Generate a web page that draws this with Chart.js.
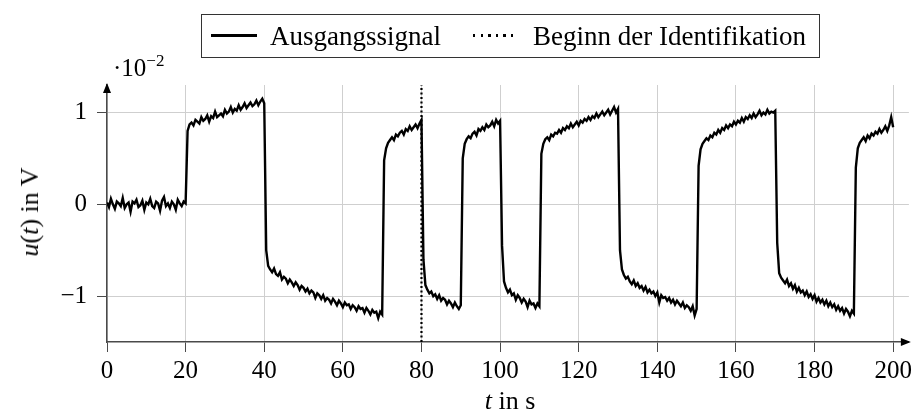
<!DOCTYPE html>
<html>
<head>
<meta charset="utf-8">
<script src="https://cdn.jsdelivr.net/npm/chart.js@4"></script>
<style>
  body { margin: 0; background: #fff; }
  #wrap { position: relative; width: 916px; height: 415px; font-family: "Liberation Serif", serif; color: #000; }
  #chart { position: absolute; left: 0; top: 0; }
  .legend { position: absolute; left: 201px; top: 14px; width: 617px; height: 42px; border: 1px solid #333; }
  .legend .item { position: absolute; top: 0; height: 42px; line-height: 42px; font-size: 27px; white-space: nowrap; }
  .legend .sample { position: absolute; top: 19px; width: 46px; height: 2.5px; }
  .ylab { position: absolute; left: 30px; top: 212px; font-size: 26px; white-space: nowrap; transform: translate(-50%, -50%) rotate(-90deg); }
  .xlab { position: absolute; left: 510px; top: 401px; font-size: 26px; white-space: nowrap; transform: translate(-50%, -50%); }
  .expo { position: absolute; left: 113px; top: 54px; font-size: 25px; white-space: nowrap; }
  .expo sup { font-size: 17px; vertical-align: 0; position: relative; top: -10px; }
</style>
</head>
<body>
<div id="wrap">
  <canvas id="chart" width="916" height="415"></canvas>
  <div class="legend">
    <div class="sample" style="left:9px; background:#000;"></div>
    <div class="item" style="left:68px;">Ausgangssignal</div>
    <div class="sample" style="left:271px; background:repeating-linear-gradient(90deg, #000 0 2.5px, transparent 2.5px 7.6px);"></div>
    <div class="item" style="left:331px;">Beginn der Identifikation</div>
  </div>
  <div class="expo">·10<sup>−2</sup></div>
  <div class="ylab"><i>u</i>(<i>t</i>) in V</div>
  <div class="xlab"><i>t</i> in s</div>
</div>
<script>
// Messwerte in 1e-2 V, Abtastung alle 0.5 s (t = 0 ... 200 s)
const sampleStep = 0.5;
const signal = [
  // 0 - 20 s
  0.02,-0.03,0.06,0.00,-0.05,0.03,0.01,-0.02,0.07,-0.04,0.00,0.02,-0.08,0.03,0.01,0.05,-0.03,-0.01,0.04,-0.06,
  0.02,0.00,0.06,-0.02,-0.04,0.03,0.01,-0.07,0.04,0.08,-0.02,0.01,-0.04,0.03,0.00,-0.06,0.05,0.01,-0.02,0.03,0.01,
  // 20.5 - 40 s
  0.80,0.87,0.89,0.86,0.92,0.90,0.88,0.95,0.91,0.93,0.97,0.90,0.96,0.94,1.01,0.95,0.97,0.99,0.96,1.03,
  0.99,1.01,1.06,1.00,1.04,1.02,1.08,1.03,1.06,1.10,1.05,1.08,1.11,1.07,1.09,1.13,1.08,1.12,1.15,1.10,
  // 40.5 - 70 s
  -0.50,-0.67,-0.71,-0.74,-0.70,-0.76,-0.78,-0.74,-0.82,-0.79,-0.81,-0.86,-0.82,-0.85,-0.89,-0.85,-0.88,-0.93,-0.89,-0.91,
  -0.95,-0.92,-0.97,-0.94,-0.96,-1.02,-0.97,-0.99,-1.03,-0.99,-1.05,-1.02,-1.04,-1.08,-1.03,-1.06,-1.10,-1.05,-1.08,-1.12,
  -1.07,-1.10,-1.09,-1.14,-1.10,-1.12,-1.16,-1.11,-1.14,-1.13,-1.18,-1.13,-1.16,-1.20,-1.15,-1.18,-1.17,-1.24,-1.17,-1.20,
  // 70.5 - 80 s
  0.48,0.61,0.67,0.70,0.73,0.70,0.76,0.74,0.78,0.80,0.76,0.82,0.80,0.85,0.81,0.84,0.87,0.83,0.88,0.92,
  // 80.5 - 90 s
  -0.60,-0.88,-0.93,-0.97,-0.95,-1.00,-0.98,-1.03,-0.99,-1.05,-1.02,-1.04,-1.09,-1.05,-1.08,-1.12,-1.07,-1.11,-1.14,-1.10,
  // 90.5 - 100 s
  0.50,0.66,0.71,0.74,0.72,0.77,0.79,0.75,0.82,0.80,0.84,0.81,0.87,0.84,0.86,0.90,0.85,0.92,0.88,0.91,
  // 100.5 - 110 s
  -0.45,-0.84,-0.91,-0.96,-0.93,-0.99,-0.97,-1.04,-0.99,-1.02,-1.07,-1.03,-1.06,-1.12,-1.05,-1.09,-1.08,-1.13,-1.08,-1.11,
  // 110.5 - 130 s
  0.55,0.66,0.71,0.73,0.70,0.76,0.74,0.78,0.77,0.81,0.78,0.83,0.81,0.85,0.83,0.88,0.84,0.87,0.90,0.86,
  0.91,0.89,0.93,0.91,0.95,0.92,0.96,0.94,0.99,0.95,0.98,1.01,0.97,1.00,1.03,0.98,1.02,1.06,1.00,1.04,
  // 130.5 - 150 s
  -0.50,-0.71,-0.77,-0.81,-0.79,-0.84,-0.87,-0.83,-0.89,-0.86,-0.91,-0.89,-0.94,-0.90,-0.96,-0.93,-0.97,-0.95,-1.00,-0.96,
  -1.07,-0.99,-1.02,-1.01,-1.05,-1.02,-1.07,-1.04,-1.09,-1.05,-1.08,-1.11,-1.07,-1.13,-1.10,-1.12,-1.16,-1.11,-1.21,-1.14,
  // 150.5 - 170 s
  0.42,0.60,0.66,0.69,0.72,0.70,0.75,0.73,0.78,0.76,0.81,0.78,0.83,0.81,0.86,0.83,0.87,0.85,0.90,0.87,
  0.91,0.89,0.94,0.90,0.95,0.93,0.97,0.94,0.99,0.95,0.98,1.02,0.97,1.00,0.98,1.03,0.99,1.01,1.00,1.02,
  // 170.5 - 190 s
  -0.42,-0.75,-0.80,-0.83,-0.86,-0.82,-0.89,-0.86,-0.92,-0.88,-0.95,-0.91,-0.96,-0.94,-0.99,-0.95,-1.01,-0.98,-1.03,-0.99,
  -1.06,-1.02,-1.07,-1.04,-1.09,-1.05,-1.11,-1.07,-1.12,-1.09,-1.15,-1.11,-1.16,-1.13,-1.19,-1.14,-1.17,-1.22,-1.16,-1.19,
  // 190.5 - 200 s
  0.40,0.61,0.67,0.70,0.73,0.69,0.75,0.72,0.77,0.75,0.79,0.77,0.82,0.78,0.81,0.85,0.80,0.86,0.95,0.84
];

// Beginn der Identifikation
const markerTime = [80, 80];
const markerLevel = [-1.5, 1.3];

const xTicks = [0, 20, 40, 60, 80, 100, 120, 140, 160, 180, 200];
const yTicks = [-1, 0, 1];
const yTickLabels = ["−1", "0", "1"];

const axisColor = "#4a4a4a";
const gridColor = "#cfcfcf";
const tickFont = { family: "Liberation Serif", size: 25 };

// Pfeilspitzen an den Achsen
const arrowPlugin = {
  id: "arrows",
  afterDraw(chart) {
    const { ctx, chartArea: a } = chart;
    ctx.save();
    ctx.fillStyle = "#000";
    ctx.beginPath();
    ctx.moveTo(a.right + 2, a.bottom);
    ctx.lineTo(a.right - 8, a.bottom - 4);
    ctx.lineTo(a.right - 8, a.bottom + 4);
    ctx.closePath();
    ctx.fill();
    ctx.beginPath();
    ctx.moveTo(a.left, a.top - 2);
    ctx.lineTo(a.left - 4, a.top + 8);
    ctx.lineTo(a.left + 4, a.top + 8);
    ctx.closePath();
    ctx.fill();
    ctx.restore();
  },
};

new Chart(document.getElementById("chart"), {
  type: "line",
  data: {
    datasets: [
      {
        label: "Ausgangssignal",
        data: signal.map((v, i) => ({ x: i * sampleStep, y: v })),
        borderColor: "#000",
        borderWidth: 2.4,
        pointRadius: 0,
        tension: 0,
      },
      {
        label: "Beginn der Identifikation",
        data: markerTime.map((t, i) => ({ x: t, y: markerLevel[i] })),
        borderColor: "#000",
        borderWidth: 2.2,
        borderDash: [2, 2.5],
        pointRadius: 0,
      },
    ],
  },
  options: {
    responsive: false,
    animation: false,
    layout: { padding: { top: 85, right: 4, left: 0, bottom: 0 } },
    plugins: { legend: { display: false }, tooltip: { enabled: false } },
    scales: {
      x: {
        type: "linear",
        min: 0,
        max: 204,
        afterBuildTicks: (s) => { s.ticks = xTicks.map((v) => ({ value: v })); },
        afterFit: (s) => { s.height = 73; },
        ticks: { font: tickFont, color: "#000", padding: 4, maxRotation: 0 },
        grid: { color: gridColor, tickColor: axisColor, tickLength: 10, lineWidth: 1 },
        border: { color: axisColor, width: 1.5 },
      },
      y: {
        min: -1.5,
        max: 1.3,
        afterBuildTicks: (s) => { s.ticks = yTicks.map((v) => ({ value: v })); },
        afterFit: (s) => { s.width = 107; },
        ticks: {
          font: tickFont,
          color: "#000",
          padding: 10,
          callback: (v) => yTickLabels[yTicks.indexOf(v)],
        },
        grid: { color: gridColor, tickColor: axisColor, tickLength: 10, lineWidth: 1 },
        border: { color: axisColor, width: 1.5 },
      },
    },
  },
  plugins: [arrowPlugin],
});
</script>
</body>
</html>
